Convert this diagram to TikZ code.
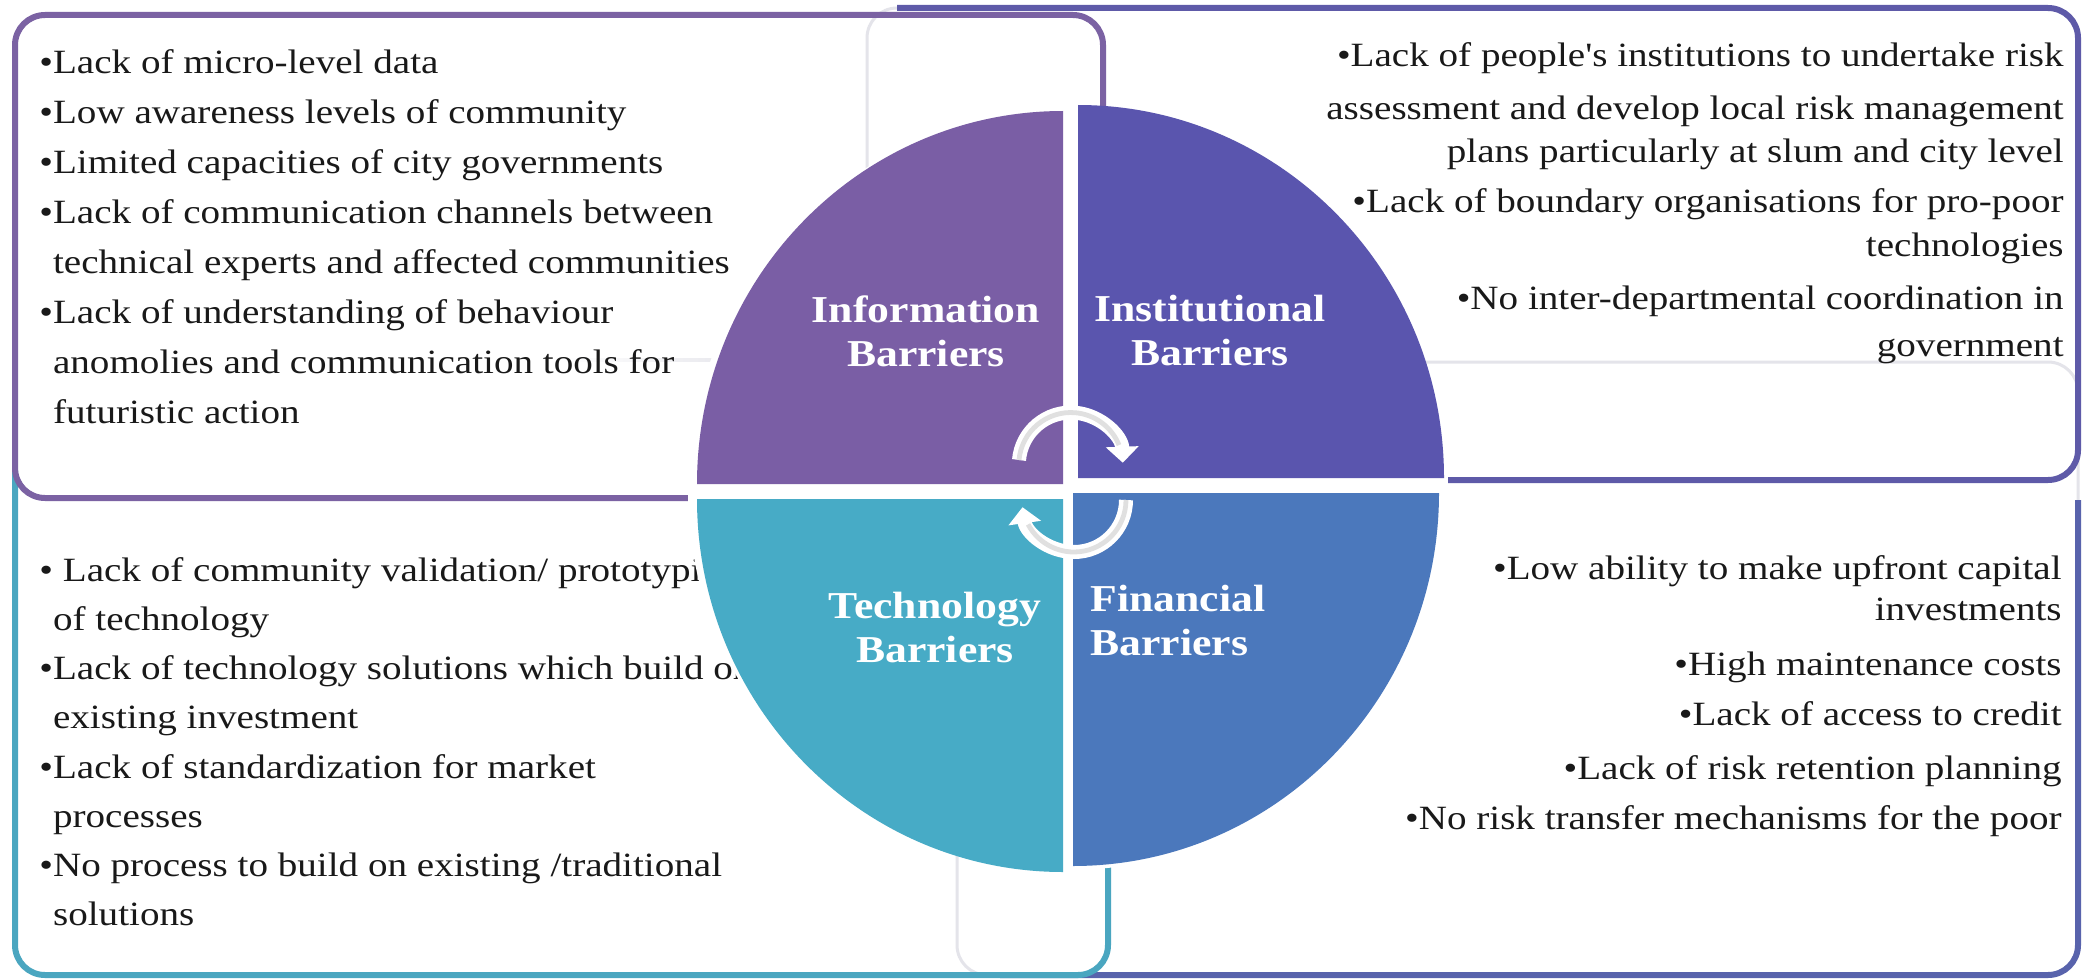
\documentclass[tikz,border=0pt]{standalone}
\usepackage{fontspec}
\setmainfont{Liberation Serif}
\newfontfamily\bodyfont[FakeStretch=1.15]{Liberation Serif}
\usetikzlibrary{arrows.meta}
\definecolor{cInfo}{HTML}{7A5EA5}
\definecolor{cInst}{HTML}{5A55AE}
\definecolor{cTech}{HTML}{47ABC6}
\definecolor{cFin}{HTML}{4B78BC}
\definecolor{bInfo}{HTML}{7B62A3}
\definecolor{bInst}{HTML}{5E5AA8}
\definecolor{bTech}{HTML}{4AA6C0}
\definecolor{bFin}{HTML}{5863AC}
\definecolor{faint}{HTML}{E4E4EA}
\begin{document}
\begin{tikzpicture}[x=0.5pt,y=-0.5pt,
  boxline/.style={line width=3pt, rounded corners=15pt},
  faintline/.style={line width=1.5pt, rounded corners=15pt, draw=faint},
  txt/.style={inner sep=0pt, font=\bodyfont\fontsize{17pt}{25pt}\selectfont, text=black!90},
  lbl/.style={inner sep=0pt, font=\bodyfont\bfseries\fontsize{19pt}{22pt}\selectfont, text=white, align=center},
  cyc/.style={line width=7pt, white, -{Triangle[width=16pt,length=8pt]}},
  cyccore/.style={line width=2.4pt, black!12}
]
\useasboundingbox (0,0) rectangle (2082,979);
\fill[white] (0,0) rectangle (2082,979);

% text boxes
\draw[faintline] (957,362) rectangle (2078,975);
\draw[boxline, bFin] (1000,975) -- (2078,975) -- (2078,500);
\draw[faintline] (867,8) rectangle (2078,480);
\draw[boxline, bInst] (897,8) -- (2078,8) -- (2078,480) -- (1300,480);
\shade[left color=white, right color=faint] (560,358.5) rectangle (760,361.5);
\draw[faintline] (1108,700) -- (1108,975) -- (960,975);
\draw[boxline, bTech] (15,470) -- (15,975) -- (1108,975) -- (1108,780);
\draw[boxline, bInfo] (15,15) rectangle (1103,498);

% texts
\node[txt, anchor=north west, align=left] (infotext) at (39,49) {%
•Lack of micro-level data\\
•Low awareness levels of community\\
•Limited capacities of city governments\\
•Lack of communication channels between\\
\hphantom{•}technical experts and affected communities\\
•Lack of understanding of behaviour\\
\hphantom{•}anomolies and communication tools for\\
\hphantom{•}futuristic action};

\node[txt, anchor=north east, align=right, font=\bodyfont\fontsize{17pt}{24pt}\selectfont] (insttext) at (2064,42) {%
•Lack of people's institutions to undertake risk\\[2.5pt]
assessment and develop local risk management\\[-2.5pt]
plans particularly at slum and city level\\[1pt]
•Lack of boundary organisations for pro-poor\\[-2pt]
technologies\\[2.5pt]
•No inter-departmental coordination in\\[-0.5pt]
government};

\node[txt, anchor=north west, align=left, font=\bodyfont\fontsize{17pt}{24.6pt}\selectfont] (techtext) at (39,557) {%
• Lack of community validation/ prototyping\\
\hphantom{•}of technology\\
•Lack of technology solutions which build on\\
\hphantom{•}existing investment\\
•Lack of standardization for market\\
\hphantom{•}processes\\
•No process to build on existing /traditional\\
\hphantom{•}solutions};

\node[txt, anchor=north east, align=right] (fintext) at (2062,555) {%
•Low ability to make upfront capital\\[-4.5pt]
investments\\[2.5pt]
•High maintenance costs\\
•Lack of access to credit\\[2pt]
•Lack of risk retention planning\\
•No risk transfer mechanisms for the poor};

% circle
\fill[white] (1068,490) circle[radius=190pt];
\fill[cInfo] (1063,484) -- ++(-183pt,0pt) arc[start angle=180,end angle=90,x radius=183pt,y radius=186.5pt] -- cycle;
\fill[cInst] (1078,478) -- ++(0pt,186.5pt) arc[start angle=90,end angle=0,x radius=183pt,y radius=186.5pt] -- cycle;
\fill[cTech] (1063,499) -- ++(-183pt,0pt) arc[start angle=180,end angle=270,x radius=183pt,y radius=186.5pt] -- cycle;
\fill[cFin] (1073,493) -- ++(183pt,0pt) arc[start angle=0,end angle=-90,x radius=183pt,y radius=186.5pt] -- cycle;

\node[lbl] (info) at (926,331) {Information\\Barriers};
\node[lbl] (inst) at (1210,331) {Institutional\\Barriers};
\node[lbl] (tech) at (935,627) {Technology\\Barriers};
\node[lbl, align=left, anchor=west] (fin) at (1090,620) {Financial\\Barriers};

% cycle arrows
\draw[cyc] (1019,460) arc[start angle=175,end angle=2,radius=26pt];
\draw[cyccore] (1019,460) arc[start angle=175,end angle=22,radius=26pt];
\draw[cyc] (1126,500) arc[start angle=0,end angle=-172,radius=26pt];
\draw[cyccore] (1126,500) arc[start angle=0,end angle=-152,radius=26pt];
\end{tikzpicture}
\end{document}
